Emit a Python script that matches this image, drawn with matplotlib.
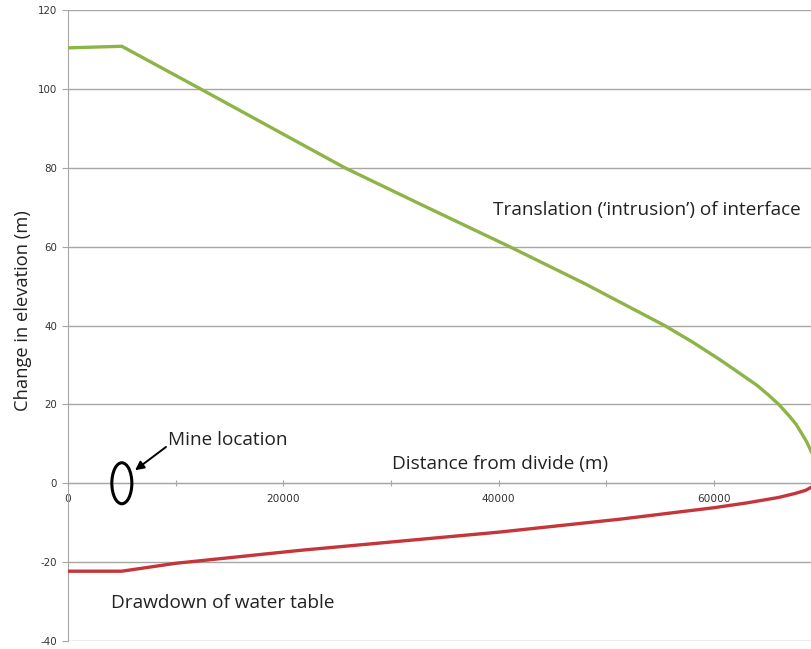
import matplotlib.pyplot as plt
from matplotlib.patches import Ellipse

plt.rcParams["axes.unicode_minus"] = False

# distance from the divide (m) and change in elevation (m)
x_interface = [0, 5000, 12300, 20000, 25700, 33000, 41000, 48000, 55400,
               58000, 60500, 62000, 64000, 65000, 66000, 67000, 67600,
               68100, 68600, 69100]
dz_interface = [110.4, 110.8, 100, 88.5, 80, 70.4, 60, 50.6, 40,
                35.8, 31.4, 28.6, 24.8, 22.5, 20, 17, 15,
                12.8, 10.5, 7.6]

x_watertable = [0, 5000, 10000, 21600, 30800, 40000, 51300, 60000,
                63000, 66000, 67500, 68500, 69100]
dz_watertable = [-22.3, -22.3, -20.3, -17, -14.7, -12.4, -9.1, -6.2,
                 -5.0, -3.6, -2.6, -1.8, -0.9]

mine_x = 5000

green = "#8db446"
red = "#c4363a"
label_font = "Open Sans"
text_color = "#222222"

fig = plt.figure(figsize=(8.11, 6.49), dpi=100)
ax = fig.add_axes([68 / 811, 8 / 649, 1 - 68 / 811, 631 / 649])

ax.plot(x_interface, dz_interface, color=green, lw=2.4, solid_capstyle="butt", zorder=3)
ax.plot(x_watertable, dz_watertable, color=red, lw=2.4, solid_capstyle="butt", zorder=3)

ax.set_xlim(0, 69000)
ax.set_ylim(-40, 120)

# horizontal gridlines only, x axis runs along zero
ax.set_yticks(range(-40, 121, 20))
ax.grid(axis="y", color="#a6a6a6", lw=1)
ax.set_axisbelow(True)
for side in ["top", "right"]:
    ax.spines[side].set_visible(False)
ax.spines["left"].set_color("#a6a6a6")
ax.spines["bottom"].set_position(("data", 0))
ax.spines["bottom"].set_color("#a6a6a6")

ax.set_xticks(range(0, 70000, 10000))
ax.set_xticklabels(["0", "", "20000", "", "40000", "", "60000"])
ax.tick_params(axis="x", direction="inout", length=5, color="#a6a6a6",
               labelsize=7.6, labelcolor="#333333", pad=5)
ax.tick_params(axis="y", direction="out", length=4, color="#a6a6a6",
               labelsize=7.4, labelcolor="#333333", pad=4)

ax.set_ylabel("Change in elevation (m)", family=label_font, fontsize=13.2,
              color=text_color)
ax.yaxis.set_label_coords(-0.048, 0.523)

# mine location marker
ax.add_patch(Ellipse((mine_x, 0), 1860, 10.4, fill=False, ec="black", lw=2.2, zorder=4))
ax.annotate("", xy=(6230, 3.3), xytext=(9100, 9.2),
            arrowprops=dict(arrowstyle="-|>", color="black", lw=1.4,
                            mutation_scale=13, shrinkA=0, shrinkB=0))
ax.text(9300, 11, "Mine location", family=label_font, fontsize=13.7,
        color=text_color, va="center")

ax.text(40100, 4.9, "Distance from divide (m)", family=label_font,
        fontsize=13.7, color=text_color, ha="center", va="center")
ax.text(39500, 69.2, "Translation (\u2018intrusion\u2019) of interface",
        family=label_font, fontsize=13.7, color=text_color, va="center")
ax.text(4000, -30.4, "Drawdown of water table", family=label_font,
        fontsize=13.7, color=text_color, va="center")

fig.savefig("out.png", dpi=100)
